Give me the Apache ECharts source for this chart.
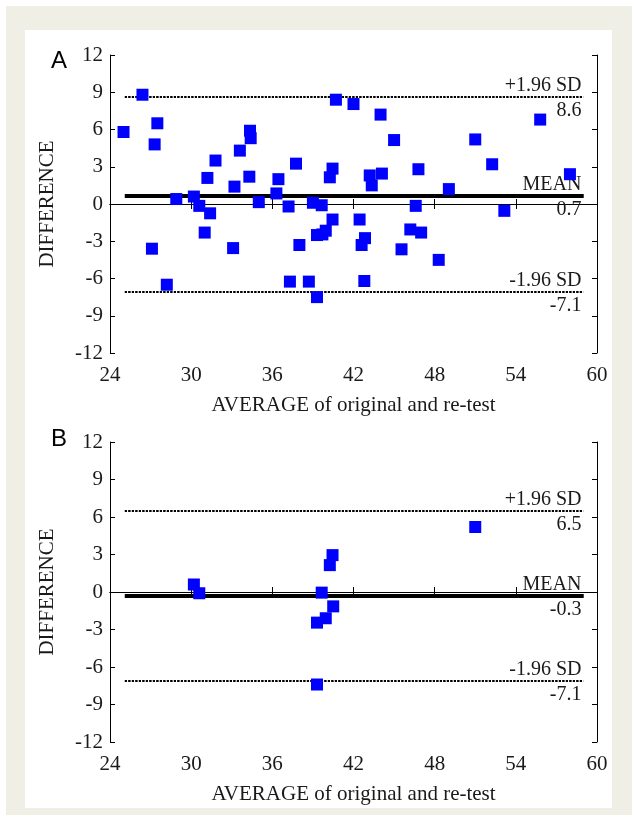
<!DOCTYPE html>
<html>
<head>
<meta charset="utf-8">
<script src="https://cdn.jsdelivr.net/npm/echarts@6/dist/echarts.min.js"></script>
<style>
  html, body { margin: 0; padding: 0; background: #ffffff; }
  #main { width: 638px; height: 815px; }
</style>
</head>
<body>
<div id="main"></div>
<script>
// 数据: A 图 (全部样本)
var avgA = [25.0, 26.4, 27.5, 27.3, 27.1, 28.2, 28.9, 30.2, 30.6, 31.4,
            31.0, 31.2, 31.8, 33.6, 33.2, 33.1, 34.35, 34.4, 34.3, 35.0,
            36.3, 36.45, 37.75, 37.2, 37.3, 38.0, 38.7, 39.0, 39.3, 39.65,
            39.3, 39.7, 39.95, 40.45, 40.25, 40.45, 40.7, 42.0, 42.45, 42.85,
            42.6, 42.8, 43.2, 43.35, 44.1, 44.0, 45.0, 45.55, 46.2, 46.6,
            46.8, 47.0, 48.3, 49.05, 51.0, 52.25, 53.15, 55.8, 58.0];
var diffA = [5.8, 8.8, 6.5, 4.8, -3.6, -6.5, 0.4, 0.6, -0.15, -0.75,
             -2.3, 2.1, 3.5, 4.3, 1.4, -3.55, 5.9, 5.3, 2.2, 0.15,
             0.85, 2.0, 3.25, -0.2, -6.25, -3.3, -6.25, 0.1, -7.5, -0.1,
             -2.5, -2.45, -2.15, -1.25, 2.15, 2.85, 8.4, 8.05, -1.25, -2.75,
             -3.3, -6.2, 2.3, 1.5, 2.45, 7.2, 5.15, -3.65, -2.05, -0.15,
             2.8, -2.3, -4.5, 1.2, 5.2, 3.2, -0.55, 6.8, 2.4];

// B 图
var avgB = [30.2, 30.6, 39.65, 40.5, 39.95, 39.3, 39.3, 40.25, 40.45, 51.0];
var diffB = [0.6, -0.1, -0.05, -1.15, -2.1, -2.45, -7.4, 2.15, 2.95, 5.2];

// 均值与 ±1.96 SD
var limitsA = [8.6, 0.7, -7.1];
var limitsB = [6.5, -0.3, -7.1];
var limitNames = ['+1.96 SD', 'MEAN', '-1.96 SD'];
var lineX = [25.1, 59];

var xTicks = [24, 30, 36, 42, 48, 54, 60];
var yTicks = [-12, -9, -6, -3, 0, 3, 6, 9, 12];

var serif = '"Liberation Serif", "DejaVu Serif", serif';
var sans = '"Liberation Sans", Arial, sans-serif';
var textColor = '#1a1a1a';

function pairs(xs, ys) {
    return xs.map(function (x, i) { return [x, ys[i]]; });
}

function limitLines(limits) {
    var out = [];
    limits.forEach(function (v, i) {
        var style = i === 1
            ? { color: '#000', width: 4, type: 'solid' }
            : { color: '#000', width: 2, type: [2, 1.5] };
        // 上方文字
        out.push([
            { coord: [lineX[0], v], lineStyle: style,
              label: { show: true, position: 'insideEndTop', formatter: limitNames[i],
                       distance: [2, 1], fontFamily: serif, fontSize: 20, color: textColor } },
            { coord: [lineX[1], v] }
        ]);
        // 下方数值
        out.push([
            { coord: [lineX[0], v], lineStyle: style,
              label: { show: true, position: 'insideEndBottom', formatter: v.toFixed(1),
                       distance: [2, 4], fontFamily: serif, fontSize: 20, color: textColor } },
            { coord: [lineX[1], v] }
        ]);
    });
    return out;
}

var axisLineStyle = { lineStyle: { color: '#000', width: 1 } };
var tickStyle = { show: true, inside: true, length: 5, lineStyle: { color: '#000', width: 1 } };

function xAxes(gridIndex) {
    return [{
        type: 'value', gridIndex: gridIndex, min: 24, max: 60, interval: 6,
        position: 'bottom',
        name: 'AVERAGE of original and re-test', nameLocation: 'middle', nameGap: 42,
        nameTextStyle: { fontFamily: serif, fontSize: 21, color: textColor },
        axisLine: axisLineStyle, axisTick: tickStyle, splitLine: { show: false },
        axisLabel: { fontFamily: serif, fontSize: 21, color: textColor, margin: 12,
                     showMinLabel: true, showMaxLabel: true,
                     formatter: function (v) { return xTicks.indexOf(v) >= 0 ? String(v) : ''; } }
    }, {
        type: 'value', gridIndex: gridIndex, min: 24, max: 60, interval: 6,
        position: 'top',
        axisLine: axisLineStyle, axisTick: tickStyle, splitLine: { show: false },
        axisLabel: { show: false }
    }];
}

function yAxes(gridIndex) {
    return [{
        type: 'value', gridIndex: gridIndex, min: -12, max: 12, interval: 3,
        position: 'left',
        name: 'DIFFERENCE', nameLocation: 'middle', nameGap: 52,
        nameTextStyle: { fontFamily: serif, fontSize: 21, color: textColor },
        axisLine: axisLineStyle, axisTick: tickStyle, splitLine: { show: false },
        axisLabel: { fontFamily: serif, fontSize: 21, color: textColor, margin: 7,
                     showMinLabel: true, showMaxLabel: true,
                     formatter: function (v) { return yTicks.indexOf(v) >= 0 ? String(v) : ''; } }
    }, {
        type: 'value', gridIndex: gridIndex, min: -12, max: 12, interval: 3,
        position: 'right',
        axisLine: axisLineStyle, axisTick: tickStyle, splitLine: { show: false },
        axisLabel: { show: false }
    }];
}

var chart = echarts.init(document.getElementById('main'), null, { renderer: 'canvas' });

var option = {
    animation: false,
    backgroundColor: '#ffffff',
    graphic: [
        { type: 'rect', shape: { x: 6, y: 6, width: 626, height: 809 }, style: { fill: '#f0efe5' }, z: -10, silent: true },
        { type: 'rect', shape: { x: 25, y: 30, width: 587, height: 778 }, style: { fill: '#ffffff' }, z: -9, silent: true },
        { type: 'text', left: 51, top: 49, style: { text: 'A', fontFamily: sans, fontSize: 24, fill: '#000' } },
        { type: 'text', left: 51, top: 427, style: { text: 'B', fontFamily: sans, fontSize: 24, fill: '#000' } }
    ],
    grid: [
        { left: 110, top: 55, width: 487, height: 298 },
        { left: 110, top: 442, width: 487, height: 300 }
    ],
    xAxis: xAxes(0).concat(xAxes(1)),
    yAxis: yAxes(0).concat(yAxes(1)),
    series: [{
        type: 'scatter', xAxisIndex: 0, yAxisIndex: 0,
        symbol: 'rect', symbolSize: 12,
        itemStyle: { color: '#0000ff', opacity: 1 },
        data: pairs(avgA, diffA), z: 5,
        markLine: { silent: true, symbol: ['none', 'none'], animation: false, z: 3,
                    data: limitLines(limitsA) }
    }, {
        type: 'scatter', xAxisIndex: 2, yAxisIndex: 2,
        symbol: 'rect', symbolSize: 12,
        itemStyle: { color: '#0000ff', opacity: 1 },
        data: pairs(avgB, diffB), z: 5,
        markLine: { silent: true, symbol: ['none', 'none'], animation: false, z: 3,
                    data: limitLines(limitsB) }
    }]
};

chart.setOption(option);
</script>
</body>
</html>
